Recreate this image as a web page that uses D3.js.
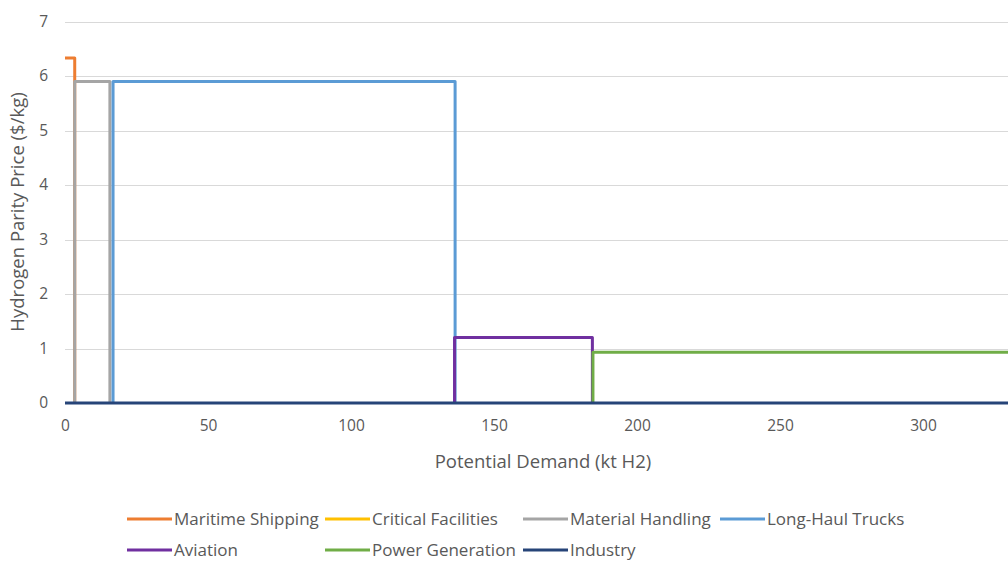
<!DOCTYPE html>
<html><head><meta charset="utf-8">
<script src="https://cdn.jsdelivr.net/npm/d3@7"></script>
<style>body{margin:0;background:#fff;}svg{display:block;font-family:"Open Sans",sans-serif;}</style>
</head><body><div id="chart"></div>
<script>
// ---- data ----
const seriesNames = ["Maritime Shipping","Critical Facilities","Material Handling","Long-Haul Trucks","Aviation","Power Generation","Industry"];
const seriesColors = ["#ED7D31","#FFC000","#A5A5A5","#5B9BD5","#7030A0","#70AD47","#264478"];
// step points (demand kt H2, price $/kg) per series
const maritimeX = [0, 3.4, 3.4];          const maritimeY = [6.33, 6.33, 0];
const criticalX = [3.4, 3.4];             const criticalY = [5.9, 5.9];
const materialX = [3.4, 3.4, 15.7, 15.7]; const materialY = [0, 5.9, 5.9, 0];
const longHaulX = [16.8, 16.8, 136.4, 136.4]; const longHaulY = [0, 5.9, 5.9, 0];
const aviationX = [136.2, 136.2, 184.4, 184.4]; const aviationY = [0, 1.2, 1.2, 0];
const powerX = [184.6, 184.6, 345];       const powerY = [0, 0.93, 0.93];
const industryX = [0, 345];               const industryY = [0, 0];
const xTicks = [0, 50, 100, 150, 200, 250, 300];
const yTicks = [0, 1, 2, 3, 4, 5, 6, 7];

const seriesX = [maritimeX, criticalX, materialX, longHaulX, aviationX, powerX, industryX];
const seriesY = [maritimeY, criticalY, materialY, longHaulY, aviationY, powerY, industryY];

const W = 1008, H = 563;
const svg = d3.select("#chart").append("svg").attr("width", W).attr("height", H);

const x = d3.scaleLinear().domain([0, 335]).range([65, 65 + 335 * 2.86]);
const y = d3.scaleLinear().domain([0, 7]).range([403, 21.5]);

// gridlines
svg.append("g").selectAll("line").data(yTicks).join("line")
  .attr("x1", x(0)).attr("x2", W)
  .attr("y1", d => Math.round(y(d)) + 0.5).attr("y2", d => Math.round(y(d)) + 0.5)
  .attr("stroke", "#d9d9d9").attr("stroke-width", 1);

// y axis labels
const yAxis = d3.axisLeft(y).tickValues(yTicks).tickSize(0).tickPadding(0).tickFormat(d3.format("d"));
const gy = svg.append("g").attr("transform", "translate(48,0)").call(yAxis);
gy.select(".domain").remove();
gy.selectAll("text").attr("fill", "#595959").style("font-size", "15.5px").style("font-family", "'Open Sans',sans-serif");

// x axis labels
const xAxis = d3.axisBottom(x).tickValues(xTicks).tickSize(0).tickPadding(0).tickFormat(d3.format("d"));
const gx = svg.append("g").attr("transform", "translate(0,420)").call(xAxis);
gx.select(".domain").remove();
gx.selectAll("text").attr("fill", "#595959").style("font-size", "15.5px").style("font-family", "'Open Sans',sans-serif");

// axis titles
svg.append("text").attr("x", 543).attr("y", 462).attr("dy", "0.35em").attr("text-anchor", "middle")
  .attr("fill", "#595959").style("font-size", "18.5px").text("Potential Demand (kt H2)");
svg.append("text").attr("transform", "translate(18,212) rotate(-90)").attr("dy", "0.35em").attr("text-anchor", "middle")
  .attr("fill", "#595959").style("font-size", "18.5px").text("Hydrogen Parity Price ($/kg)");

// series
const line = d3.line().x(d => x(d[0])).y(d => y(d[1]));
seriesNames.forEach((name, i) => {
  const pts = seriesX[i].map((v, j) => [v, seriesY[i][j]]);
  svg.append("path").datum(pts).attr("d", line)
    .attr("fill", "none").attr("stroke", seriesColors[i]).attr("stroke-width", 3)
    .attr("stroke-linejoin", "round");
});

// legend
const legCols = [127, 325, 523, 720];
const legRows = [519, 550];
seriesNames.forEach((name, i) => {
  const cx = legCols[i % 4], cy = legRows[Math.floor(i / 4)];
  const g = svg.append("g");
  g.append("line").attr("x1", cx).attr("x2", cx + 45).attr("y1", cy).attr("y2", cy)
    .attr("stroke", seriesColors[i]).attr("stroke-width", 3);
  g.append("text").attr("x", cx + 47).attr("y", cy).attr("dy", "0.35em")
    .attr("fill", "#595959").style("font-size", "17px").text(name);
});
</script></body></html>
